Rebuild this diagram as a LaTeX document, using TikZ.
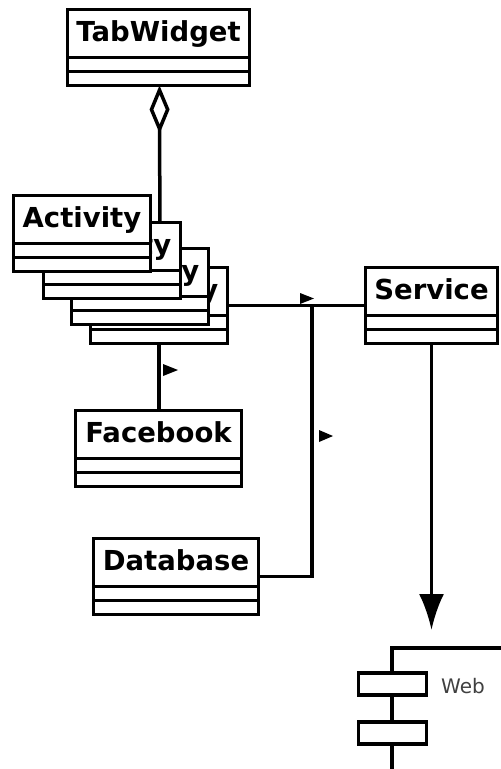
\documentclass[tikz,border=0pt]{standalone}
\usepackage{fontspec}
\setmainfont{DejaVu Sans}
\usetikzlibrary{arrows.meta, backgrounds}

\tikzset{
  classbox/.style={draw, fill=white, rectangle, line width=3.5pt, inner sep=0pt, outer sep=0pt},
  classname/.style={font=\fontsize{27.5}{32}\selectfont\bfseries, inner sep=0pt, anchor=base},
  link/.style={line width=3.5pt},
  navmark/.style={fill=black},
  partbox/.style={draw, fill=white, rectangle, line width=3.5pt, inner sep=0pt, outer sep=0pt,
                  minimum width=68pt, minimum height=22pt},
}

% UML class box: name, x, y (top-left of the border), width, title
\newcommand{\umlclass}[5]{%
  \node[classbox, minimum width=#4pt, minimum height=76pt, anchor=north west] (#1) at (#2,-#3) {};
  \draw[line width=3.5pt] ([yshift=-48pt]#1.north west) -- ([yshift=-48pt]#1.north east);
  \draw[line width=3.5pt] ([yshift=-62pt]#1.north west) -- ([yshift=-62pt]#1.north east);
  \node[classname] at ([yshift=-32pt]#1.north) {#5};
}

\begin{document}
\begin{tikzpicture}[x=1pt, y=1pt]
\useasboundingbox (0,0) rectangle (501,-769);

% container
\umlclass{tab}{67.5}{9.5}{182}{TabWidget}

% stacked activities, back-most first
\umlclass{act4}{90.5}{267.5}{137}{Activity}
\umlclass{act3}{71.5}{248.5}{137}{Activity}
\umlclass{act2}{43.5}{222.5}{137}{Activity}
\umlclass{act1}{13.5}{195.5}{137}{Activity}

% aggregation, drawn behind the stack
\begin{pgfonlayer}{background}
\draw[link, {Diamond[open, length=48pt, width=20pt]}-] ([xshift=1pt]tab.south) -- ([xshift=1pt]act4.north);
\end{pgfonlayer}

% other classes
\umlclass{svc}{365.5}{267.5}{132}{Service}
\umlclass{fb}{75.5}{410.5}{166}{Facebook}
\umlclass{db}{93.5}{538.5}{165}{Database}

% associations
\coordinate (j) at (312,-305);
\draw[link] (act4.east) -- (svc.west);
\draw[link] (db.east) -| (j);
\draw[link] (act4.south) -- (act4.south |- fb.north);

% navigability markers
\fill[navmark] (300,-293) -- (314,-298.5) -- (300,-304) -- cycle;
\fill[navmark] (319,-430) -- (333,-436) -- (319,-442) -- cycle;
\fill[navmark] (163,-364) -- (178,-370) -- (163,-376) -- cycle;

% dependency on the web component
\coordinate (webtip) at (431.5,-630);
\draw[link, -{Latex[length=36pt, width=25pt]}] (svc.south) -- (webtip);

% component
\node[draw, rectangle, line width=3.5pt, inner sep=0pt, outer sep=0pt,
      minimum width=200pt, minimum height=200pt, anchor=north west] (web) at (392,-648) {};
\node[partbox] (p1) at (392.5,-684) {};
\node[partbox] (p2) at (392.5,-733) {};
\node[font=\fontsize{20}{24}\selectfont, text=black!75, inner sep=0pt, anchor=base west]
  (wl) at (441,-693) {Web};
\end{tikzpicture}
\end{document}
